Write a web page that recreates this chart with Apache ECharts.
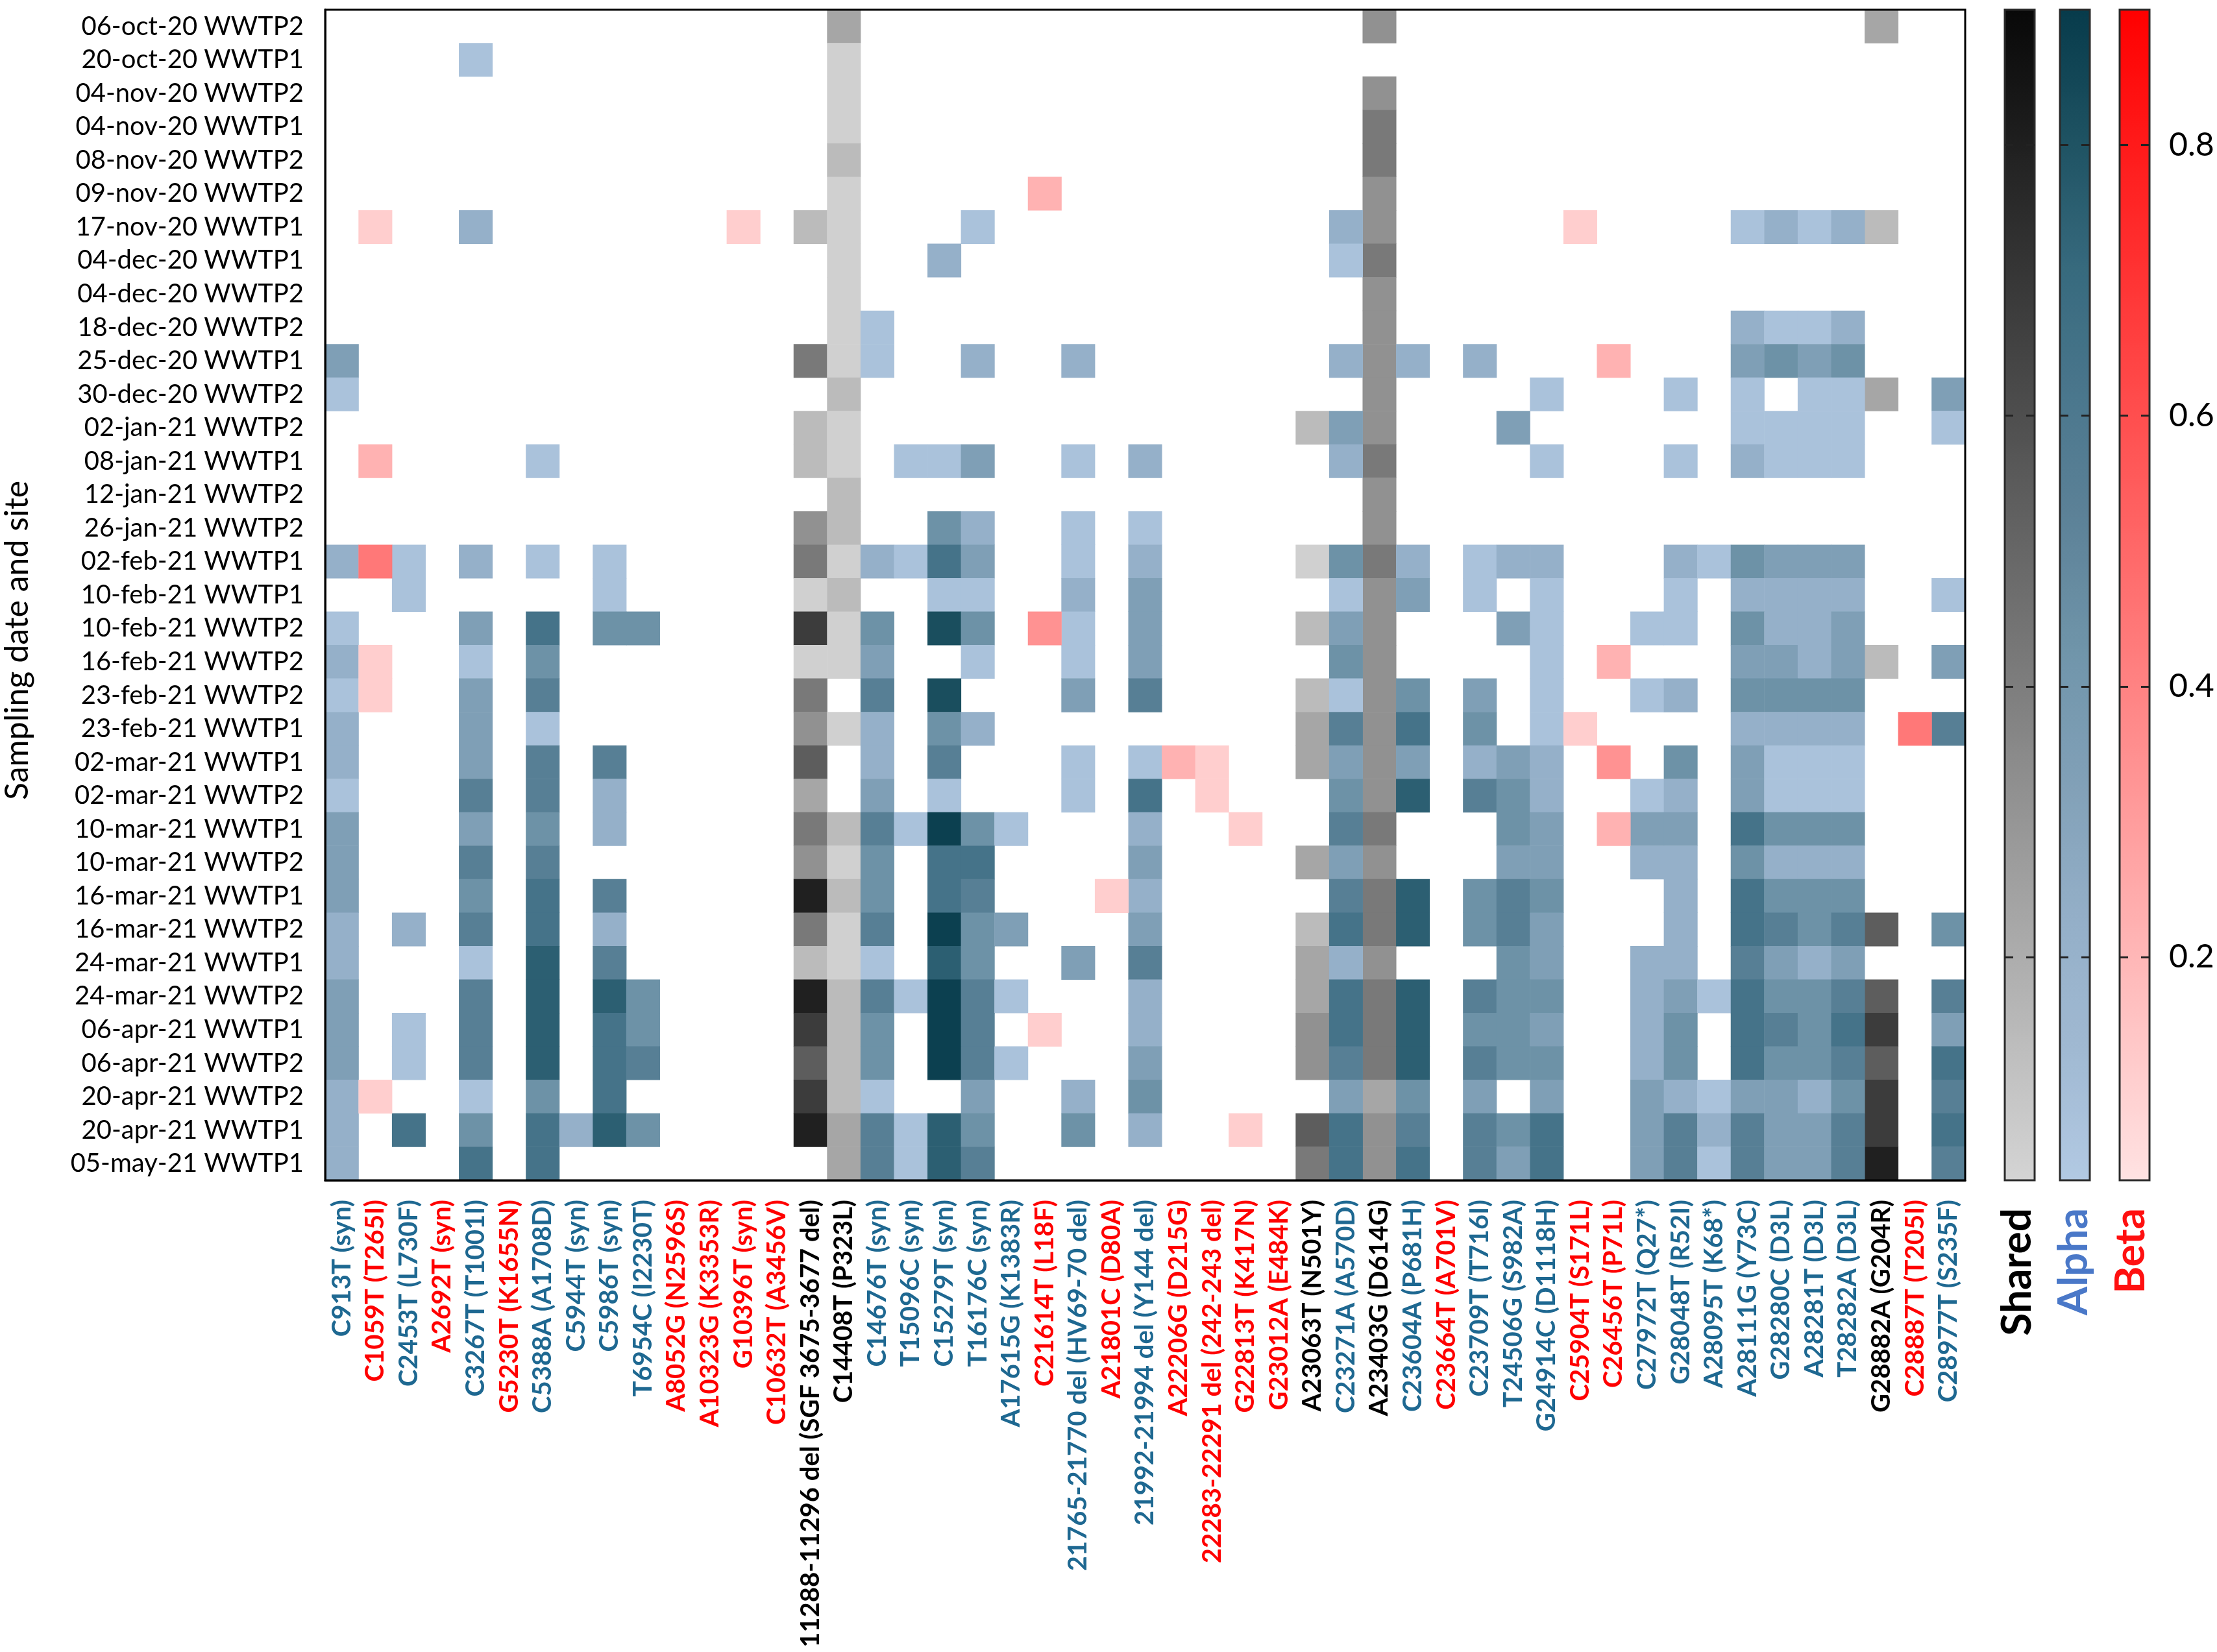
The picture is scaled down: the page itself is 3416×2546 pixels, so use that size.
<!DOCTYPE html>
<html><head><meta charset="utf-8">
<script src="https://cdn.jsdelivr.net/npm/echarts@6.0.0/dist/echarts.min.js"></script>
<style>html,body{margin:0;padding:0;background:#fff}#c{width:3416px;height:2546px}</style>
</head><body><div id="c"></div>
<script>
const samples = ['06-oct-20 WWTP2','20-oct-20 WWTP1','04-nov-20 WWTP2','04-nov-20 WWTP1','08-nov-20 WWTP2','09-nov-20 WWTP2','17-nov-20 WWTP1','04-dec-20 WWTP1','04-dec-20 WWTP2','18-dec-20 WWTP2','25-dec-20 WWTP1','30-dec-20 WWTP2','02-jan-21 WWTP2','08-jan-21 WWTP1','12-jan-21 WWTP2','26-jan-21 WWTP2','02-feb-21 WWTP1','10-feb-21 WWTP1','10-feb-21 WWTP2','16-feb-21 WWTP2','23-feb-21 WWTP2','23-feb-21 WWTP1','02-mar-21 WWTP1','02-mar-21 WWTP2','10-mar-21 WWTP1','10-mar-21 WWTP2','16-mar-21 WWTP1','16-mar-21 WWTP2','24-mar-21 WWTP1','24-mar-21 WWTP2','06-apr-21 WWTP1','06-apr-21 WWTP2','20-apr-21 WWTP2','20-apr-21 WWTP1','05-may-21 WWTP1'];

const mutations = ['C913T (syn)','C1059T (T265I)','C2453T (L730F)','A2692T (syn)','C3267T (T1001I)','G5230T (K1655N)','C5388A (A1708D)','C5944T (syn)','C5986T (syn)','T6954C (I2230T)','A8052G (N2596S)','A10323G (K3353R)','G10396T (syn)','C10632T (A3456V)','11288-11296 del (SGF 3675-3677 del)','C14408T (P323L)','C14676T (syn)','T15096C (syn)','C15279T (syn)','T16176C (syn)','A17615G (K1383R)','C21614T (L18F)','21765-21770 del (HV69-70 del)','A21801C (D80A)','21992-21994 del (Y144 del)','A22206G (D215G)','22283-22291 del (242-243 del)','G22813T (K417N)','G23012A (E484K)','A23063T (N501Y)','C23271A (A570D)','A23403G (D614G)','C23604A (P681H)','C23664T (A701V)','C23709T (T716I)','T24506G (S982A)','G24914C (D1118H)','C25904T (S171L)','C26456T (P71L)','C27972T (Q27*)','G28048T (R52I)','A28095T (K68*)','A28111G (Y73C)','G28280C (D3L)','A28281T (D3L)','T28282A (D3L)','G28882A (G204R)','C28887T (T205I)','C28977T (S235F)'];

const lineage = ['Alpha','Beta','Alpha','Beta','Alpha','Beta','Alpha','Alpha','Alpha','Alpha','Beta','Beta','Beta','Beta','Shared','Shared','Alpha','Alpha','Alpha','Alpha','Alpha','Beta','Alpha','Beta','Alpha','Beta','Beta','Beta','Beta','Shared','Alpha','Shared','Alpha','Beta','Alpha','Alpha','Alpha','Beta','Beta','Alpha','Alpha','Alpha','Alpha','Alpha','Alpha','Alpha','Shared','Beta','Alpha'];

const colorbarTicks = [0.2, 0.4, 0.6, 0.8];

// allele frequency per sample (rows) and mutation (columns); 0 = not detected
const freq = [
[0,0,0,0,0,0,0,0,0,0, 0,0,0,0,0,.23,0,0,0,0, 0,0,0,0,0,0,0,0,0,0, 0,.32,0,0,0,0,0,0,0,0, 0,0,0,0,0,0,.23,0,0],
[0,0,0,0,.08,0,0,0,0,0, 0,0,0,0,0,.05,0,0,0,0, 0,0,0,0,0,0,0,0,0,0, 0,0,0,0,0,0,0,0,0,0, 0,0,0,0,0,0,0,0,0],
[0,0,0,0,0,0,0,0,0,0, 0,0,0,0,0,.05,0,0,0,0, 0,0,0,0,0,0,0,0,0,0, 0,.32,0,0,0,0,0,0,0,0, 0,0,0,0,0,0,0,0,0],
[0,0,0,0,0,0,0,0,0,0, 0,0,0,0,0,.05,0,0,0,0, 0,0,0,0,0,0,0,0,0,0, 0,.42,0,0,0,0,0,0,0,0, 0,0,0,0,0,0,0,0,0],
[0,0,0,0,0,0,0,0,0,0, 0,0,0,0,0,.14,0,0,0,0, 0,0,0,0,0,0,0,0,0,0, 0,.42,0,0,0,0,0,0,0,0, 0,0,0,0,0,0,0,0,0],
[0,0,0,0,0,0,0,0,0,0, 0,0,0,0,0,.05,0,0,0,0, 0,.22,0,0,0,0,0,0,0,0, 0,.32,0,0,0,0,0,0,0,0, 0,0,0,0,0,0,0,0,0],
[0,.11,0,0,.22,0,0,0,0,0, 0,0,.11,0,.14,.05,0,0,0,.08, 0,0,0,0,0,0,0,0,0,0, .22,.32,0,0,0,0,0,.11,0,0, 0,0,.08,.22,.08,.22,.14,0,0],
[0,0,0,0,0,0,0,0,0,0, 0,0,0,0,0,.05,0,0,.22,0, 0,0,0,0,0,0,0,0,0,0, .08,.42,0,0,0,0,0,0,0,0, 0,0,0,0,0,0,0,0,0],
[0,0,0,0,0,0,0,0,0,0, 0,0,0,0,0,.05,0,0,0,0, 0,0,0,0,0,0,0,0,0,0, 0,.32,0,0,0,0,0,0,0,0, 0,0,0,0,0,0,0,0,0],
[0,0,0,0,0,0,0,0,0,0, 0,0,0,0,0,.05,.08,0,0,0, 0,0,0,0,0,0,0,0,0,0, 0,.32,0,0,0,0,0,0,0,0, 0,0,.22,.08,.08,.22,0,0,0],
[.34,0,0,0,0,0,0,0,0,0, 0,0,0,0,.42,.05,.08,0,0,.22, 0,0,.22,0,0,0,0,0,0,0, .22,.32,.22,0,.22,0,0,0,.22,0, 0,0,.34,.44,.34,.44,0,0,0],
[.08,0,0,0,0,0,0,0,0,0, 0,0,0,0,0,.14,0,0,0,0, 0,0,0,0,0,0,0,0,0,0, 0,.32,0,0,0,0,.08,0,0,0, .08,0,.08,0,.08,.08,.23,0,.34],
[0,0,0,0,0,0,0,0,0,0, 0,0,0,0,.14,.05,0,0,0,0, 0,0,0,0,0,0,0,0,0,.14, .34,.32,0,0,0,.34,0,0,0,0, 0,0,.08,.08,.08,.08,0,0,.08],
[0,.22,0,0,0,0,.08,0,0,0, 0,0,0,0,.14,.05,0,.08,.08,.34, 0,0,.08,0,.22,0,0,0,0,0, .22,.42,0,0,0,0,.08,0,0,0, .08,0,.22,.08,.08,.08,0,0,0],
[0,0,0,0,0,0,0,0,0,0, 0,0,0,0,0,.14,0,0,0,0, 0,0,0,0,0,0,0,0,0,0, 0,.32,0,0,0,0,0,0,0,0, 0,0,0,0,0,0,0,0,0],
[0,0,0,0,0,0,0,0,0,0, 0,0,0,0,.32,.14,0,0,.44,.22, 0,0,.08,0,.08,0,0,0,0,0, 0,.32,0,0,0,0,0,0,0,0, 0,0,0,0,0,0,0,0,0],
[.22,.44,.08,0,.22,0,.08,0,.08,0, 0,0,0,0,.42,.05,.22,.08,.64,.34, 0,0,.08,0,.22,0,0,0,0,.05, .44,.42,.22,0,.08,.22,.22,0,0,0, .22,.08,.44,.34,.34,.34,0,0,0],
[0,0,.08,0,0,0,0,0,.08,0, 0,0,0,0,.05,.14,0,0,.08,.08, 0,0,.22,0,.34,0,0,0,0,0, .08,.32,.34,0,.08,0,.08,0,0,0, .08,0,.22,.22,.22,.22,0,0,.08],
[.08,0,0,0,.34,0,.64,0,.44,.44, 0,0,0,0,.68,.05,.44,0,.82,.44, 0,.34,.08,0,.34,0,0,0,0,.14, .34,.32,0,0,0,.34,.08,0,0,.08, .08,0,.44,.22,.22,.34,0,0,0],
[.22,.11,0,0,.08,0,.44,0,0,0, 0,0,0,0,.05,.05,.34,0,0,.08, 0,0,.08,0,.34,0,0,0,0,0, .44,.32,0,0,0,0,.08,0,.22,0, 0,0,.34,.34,.22,.34,.14,0,.34],
[.08,.11,0,0,.34,0,.55,0,0,0, 0,0,0,0,.42,0,.55,0,.82,0, 0,0,.34,0,.55,0,0,0,0,.14, .08,.32,.44,0,.34,0,.08,0,0,.08, .22,0,.44,.44,.44,.44,0,0,0],
[.22,0,0,0,.34,0,.08,0,0,0, 0,0,0,0,.32,.05,.22,0,.44,.22, 0,0,0,0,0,0,0,0,0,.23, .55,.32,.64,0,.44,0,.08,.11,0,0, 0,0,.22,.22,.22,.22,0,.44,.55],
[.22,0,0,0,.34,0,.55,0,.55,0, 0,0,0,0,.54,0,.22,0,.55,0, 0,0,.08,0,.08,.22,.11,0,0,.23, .34,.32,.34,0,.22,.34,.22,0,.34,0, .44,0,.34,.08,.08,.08,0,0,0],
[.08,0,0,0,.55,0,.55,0,.22,0, 0,0,0,0,.23,0,.34,0,.08,0, 0,0,.08,0,.64,0,.11,0,0,0, .44,.32,.75,0,.55,.44,.22,0,0,.08, .22,0,.34,.08,.08,.08,0,0,0],
[.34,0,0,0,.34,0,.44,0,.22,0, 0,0,0,0,.42,.14,.55,.08,.88,.44, .08,0,0,0,.22,0,0,.11,0,0, .55,.42,0,0,0,.44,.34,0,.22,.34, .34,0,.64,.44,.44,.44,0,0,0],
[.34,0,0,0,.55,0,.55,0,0,0, 0,0,0,0,.32,.05,.44,0,.64,.64, 0,0,0,0,.34,0,0,0,0,.23, .34,.32,0,0,0,.34,.34,0,0,.22, .22,0,.44,.22,.22,.22,0,0,0],
[.34,0,0,0,.44,0,.64,0,.55,0, 0,0,0,0,.80,.14,.44,0,.64,.55, 0,0,0,.11,.22,0,0,0,0,0, .55,.42,.75,0,.44,.55,.44,0,0,0, .22,0,.64,.44,.44,.44,0,0,0],
[.22,0,.22,0,.55,0,.64,0,.22,0, 0,0,0,0,.42,.05,.55,0,.88,.44, .34,0,0,0,.34,0,0,0,0,.14, .64,.42,.75,0,.44,.55,.34,0,0,0, .22,0,.64,.55,.44,.55,.54,0,.44],
[.22,0,0,0,.08,0,.75,0,.55,0, 0,0,0,0,.14,.05,.08,0,.75,.44, 0,0,.34,0,.55,0,0,0,0,.23, .22,.32,0,0,0,.44,.34,0,0,.22, .22,0,.55,.34,.22,.34,0,0,0],
[.34,0,0,0,.55,0,.75,0,.75,.44, 0,0,0,0,.80,.14,.55,.08,.88,.55, .08,0,0,0,.22,0,0,0,0,.23, .64,.42,.75,0,.55,.44,.44,0,0,.22, .34,.08,.64,.44,.44,.55,.54,0,.55],
[.34,0,.08,0,.55,0,.75,0,.64,.44, 0,0,0,0,.68,.14,.44,0,.88,.55, 0,.11,0,0,.22,0,0,0,0,.32, .64,.42,.75,0,.44,.44,.34,0,0,.22, .44,0,.64,.55,.44,.64,.68,0,.34],
[.34,0,.08,0,.55,0,.75,0,.64,.55, 0,0,0,0,.54,.14,.44,0,.88,.55, .08,0,0,0,.34,0,0,0,0,.32, .55,.42,.75,0,.55,.44,.44,0,0,.22, .44,0,.64,.44,.44,.55,.54,0,.64],
[.22,.11,0,0,.08,0,.44,0,.64,0, 0,0,0,0,.68,.14,.08,0,0,.34, 0,0,.22,0,.44,0,0,0,0,0, .34,.23,.44,0,.34,0,.34,0,0,.34, .22,.08,.34,.34,.22,.44,.68,0,.55],
[.22,0,.64,0,.44,0,.64,.22,.75,.44, 0,0,0,0,.80,.23,.55,.08,.75,.44, 0,0,.44,0,.22,0,0,.11,0,.54, .64,.32,.55,0,.55,.44,.64,0,0,.34, .55,.22,.55,.34,.34,.55,.68,0,.64],
[.22,0,0,0,.64,0,.64,0,0,0, 0,0,0,0,0,.23,.55,.08,.75,.55, 0,0,0,0,0,0,0,0,0,.42, .64,.32,.64,0,.55,.34,.64,0,0,.34, .55,.08,.55,.34,.34,.55,.80,0,.55]
];

// ---------- presentation ----------
const FONT = 'Lato, "Open Sans", sans-serif';
const groupOrder = ['Shared', 'Alpha', 'Beta'];
const labelColor = {Shared: '#000000', Alpha: '#1e6891', Beta: '#ff0000'};
const titleColor = {Shared: '#000000', Alpha: '#4a78c8', Beta: '#ff1010'};
const ramps = {
  Shared: ['#d4d4d4', '#080808'],
  Alpha: ['#b2c9e3','#a0b9d2','#94afc8','#82a1b8','#7196ab','#5e8399','#4b778d','#376a7e','#1e5262','#073b4b'],
  Beta: ['#ffe2e2', '#ff0000']
};
const cbMin = 0.035, cbMax = 0.9;
const plot = {left: 501, top: 15, width: 2527, height: 1804};
const cbLeft = [3089, 3174, 3266];
const cbW = 46;

const seriesData = {Shared: [], Alpha: [], Beta: []};
freq.forEach((row, r) => row.forEach((v, c) => {
  if (v > 0) seriesData[lineage[c]].push([c, r, v]);
}));

const grids = [{left: plot.left, top: plot.top, width: plot.width, height: plot.height,
  outerBoundsMode: 'none', containLabel: false,
  show: true, borderColor: '#000', borderWidth: 3, z: 6}];
const xAxes = [{
  type: 'category', gridIndex: 0, data: mutations, position: 'bottom', z: 6,
  axisLine: {lineStyle: {color: '#000', width: 3}},
  axisTick: {alignWithLabel: true, length: 26, lineStyle: {color: '#000', width: 3}},
  splitLine: {show: false},
  axisLabel: {rotate: 90, interval: 0, margin: 30, fontFamily: FONT, fontWeight: 'bold', fontSize: 40,
    color: (val) => labelColor[lineage[mutations.indexOf(val)]]}
}];
const yAxes = [{
  type: 'category', gridIndex: 0, data: samples, inverse: true, z: 6,
  axisLine: {lineStyle: {color: '#000', width: 3}},
  axisTick: {alignWithLabel: true, length: 23, lineStyle: {color: '#000', width: 3}},
  splitLine: {show: false},
  axisLabel: {interval: 0, margin: 33, fontFamily: FONT, fontSize: 40, color: '#000'}
}];
const visualMaps = [];
groupOrder.forEach((g, i) => {
  const gi = i + 1;
  grids.push({left: cbLeft[i], top: plot.top, width: cbW, height: plot.height,
    outerBoundsMode: 'none', containLabel: false,
    show: true, borderColor: '#2a2a2a', borderWidth: 3, backgroundColor: 'transparent', z: 10});
  xAxes.push({type: 'value', gridIndex: gi, show: false, min: 0, max: 1});
  ['left', 'right'].forEach(pos => {
    const showLab = (g === 'Beta' && pos === 'right');
    yAxes.push({
      type: 'value', gridIndex: gi, position: pos, min: cbMin, max: cbMax, z: 10,
      axisLine: {show: false}, splitLine: {show: false},
      axisTick: {show: true, inside: true, length: 13, customValues: colorbarTicks,
        lineStyle: {color: '#222', width: 3}},
      axisLabel: {show: showLab, customValues: colorbarTicks, margin: 30, fontFamily: FONT,
        fontSize: 50, color: '#000', formatter: v => v.toFixed(1)}
    });
  });
  visualMaps.push({
    type: 'continuous', seriesIndex: i, min: cbMin, max: cbMax, show: true,
    calculable: false, hoverLink: false, orient: 'vertical', padding: 0,
    left: cbLeft[i], top: plot.top, itemWidth: cbW, itemHeight: plot.height,
    inRange: {color: ramps[g]}, z: 4
  });
});

const series = groupOrder.map(g => ({
  name: g, type: 'heatmap', xAxisIndex: 0, yAxisIndex: 0, data: seriesData[g],
  itemStyle: {borderWidth: 0}, emphasis: {disabled: true}, progressive: 0
}));

const titleX = [3108, 3195, 3283];
const graphics = groupOrder.map((g, i) => ({
  type: 'text', x: titleX[i], y: 1862, rotation: Math.PI / 2,
  style: {text: g, font: 'bold 64px ' + FONT, fill: titleColor[g], align: 'right', verticalAlign: 'middle'}
}));
graphics.push({
  type: 'text', x: 27, y: 987, rotation: Math.PI / 2,
  style: {text: 'Sampling date and site', font: '50px ' + FONT, fill: '#000', align: 'center', verticalAlign: 'middle'}
});

const chart = echarts.init(document.getElementById('c'), null, {renderer: 'canvas'});
chart.setOption({
  animation: false, backgroundColor: '#fff',
  grid: grids, xAxis: xAxes, yAxis: yAxes, visualMap: visualMaps,
  series: series, graphic: graphics
});
</script></body></html>
